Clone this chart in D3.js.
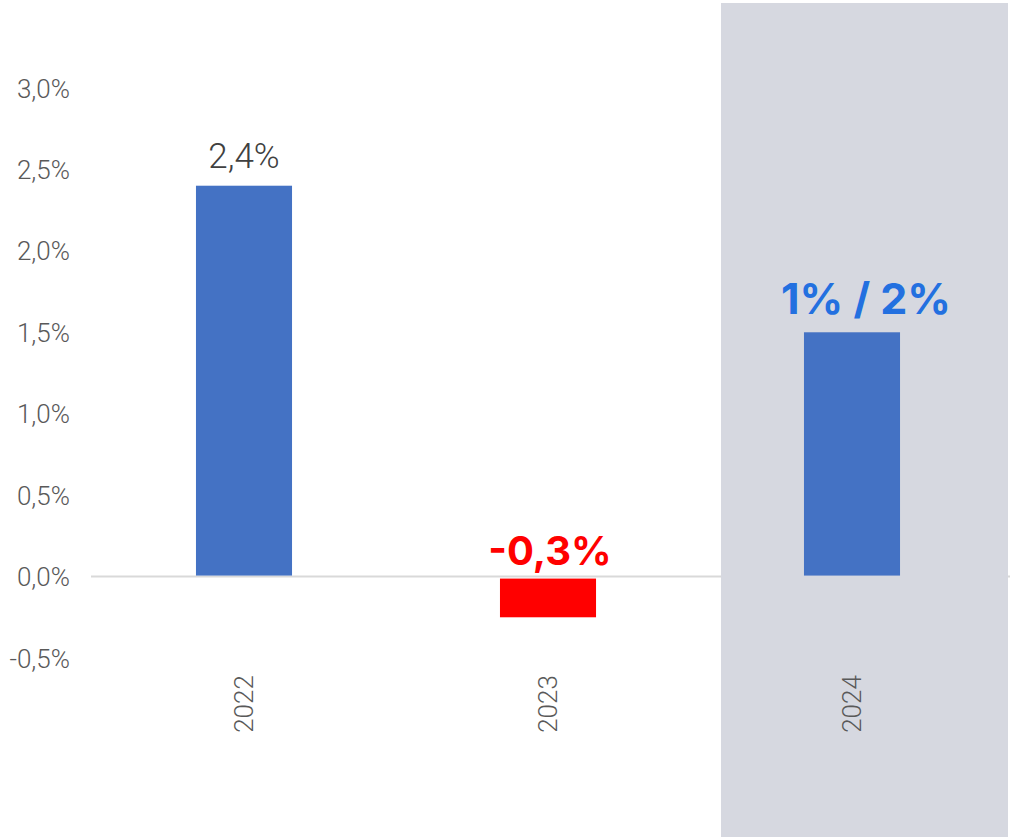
<!DOCTYPE html>
<html lang="en">
<head>
    <meta charset="UTF-8">
    <title>Growth 2022-2024</title>
    <script src="https://d3js.org/d3.v7.min.js"></script>
    <style>
        body { margin: 0; background: #fff; }
        svg { display: block; }
    </style>
</head>
<body>
    <svg id="chart" width="1010" height="837"></svg>
    <script>
        // data
        const years = ["2022", "2023", "2024"];
        const values = [2.4, -0.25, 1.5];
        const valueLabels = ["2,4%", "-0,3%", "1% / 2%"];
        const tickValues = [-0.5, 0, 0.5, 1.0, 1.5, 2.0, 2.5, 3.0];

        const width = 1010, height = 837;
        const svg = d3.select("#chart");

        const x = d3.scaleBand()
            .domain(years)
            .range([92, 1004])
            .paddingInner(0.684)
            .paddingOuter(0.342);

        const y = d3.scaleLinear()
            .domain([-0.5, 3.0])
            .range([658, 88]);

        // comma decimal, plain hyphen for negatives
        const fmt = d => (d < 0 ? "-" : "") + Math.abs(d).toFixed(1).replace(".", ",") + "%";

        // zero line
        svg.append("line")
            .attr("x1", 91).attr("x2", width)
            .attr("y1", y(0)).attr("y2", y(0))
            .attr("stroke", "#d9d9d9")
            .attr("stroke-width", 2);

        // highlighted forecast column
        const cx24 = x("2024") + x.bandwidth() / 2;
        svg.append("rect")
            .attr("x", cx24 - 131)
            .attr("y", 3)
            .attr("width", 287)
            .attr("height", height - 3)
            .attr("fill", "#d6d8e0");

        // y axis labels
        const yAxis = d3.axisLeft(y).tickValues(tickValues).tickFormat(fmt).tickSize(0).tickPadding(0);
        svg.append("g")
            .attr("transform", "translate(70,0)")
            .call(yAxis)
            .call(g => g.select(".domain").remove())
            .selectAll("text")
            .attr("font-family", "Roboto, sans-serif")
            .attr("font-weight", 300)
            .attr("font-size", 26)
            .attr("fill", "#595959")
            .attr("dy", "0.35em");

        // bars
        svg.selectAll("rect.bar")
            .data(values)
            .enter()
            .append("rect")
            .attr("class", "bar")
            .attr("x", (d, i) => x(years[i]))
            .attr("width", x.bandwidth())
            .attr("y", d => d >= 0 ? y(d) : y(0) + 2)
            .attr("height", d => Math.abs(y(d) - y(0)) - (d >= 0 ? 1 : 2))
            .attr("fill", d => d >= 0 ? "#4472c4" : "#ff0000");

        // value labels
        const labelStyle = [
            { size: 35, weight: 300, color: "#404040", family: "Roboto, sans-serif", dx: 0 },
            { size: 40, weight: 700, color: "#ff0000", family: "Inter, 'Open Sans', sans-serif", dx: 2 },
            { size: 43, weight: 700, color: "#2370e0", family: "Inter, 'Open Sans', sans-serif", dx: 14 }
        ];
        svg.selectAll("text.val")
            .data(values)
            .enter()
            .append("text")
            .attr("class", "val")
            .attr("x", (d, i) => x(years[i]) + x.bandwidth() / 2 + labelStyle[i].dx)
            .attr("y", d => d >= 0 ? y(d) - 18 : y(0) - 12)
            .attr("text-anchor", "middle")
            .attr("font-family", (d, i) => labelStyle[i].family)
            .attr("font-weight", (d, i) => labelStyle[i].weight)
            .attr("font-size", (d, i) => labelStyle[i].size)
            .attr("fill", (d, i) => labelStyle[i].color)
            .text((d, i) => valueLabels[i]);

        // category labels, rotated
        svg.selectAll("text.cat")
            .data(years)
            .enter()
            .append("text")
            .attr("class", "cat")
            .attr("transform", d => `translate(${x(d) + x.bandwidth() / 2 + 9}, 704) rotate(-90)`)
            .attr("text-anchor", "middle")
            .attr("font-family", "Roboto, sans-serif")
            .attr("font-weight", 300)
            .attr("font-size", 26)
            .attr("fill", "#595959")
            .text(d => d);
    </script>
</body>
</html>
